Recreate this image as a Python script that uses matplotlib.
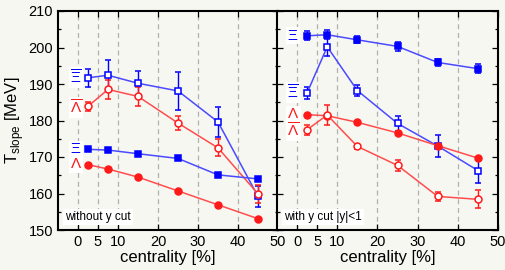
import matplotlib
matplotlib.use("Agg")
import matplotlib.pyplot as plt
import numpy as np

plt.rcParams['font.family'] = ['Liberation Sans', 'DejaVu Sans']
plt.rcParams['mathtext.fontset'] = 'custom'
plt.rcParams['mathtext.rm'] = 'Liberation Sans'

centrality = [2.5, 7.5, 15, 25, 35, 45]

# left panel: without y cut
L_xibar = [191.7, 192.4, 190.2, 188.1, 179.6, 159.2]
L_xibar_err = [2.4, 4.2, 3.4, 5.3, 4.0, 2.8]
L_lambar = [183.9, 188.5, 186.6, 179.3, 172.5, 159.9]
L_lambar_err = [1.2, 2.7, 2.5, 1.8, 2.3, 2.5]
L_xi = [172.1, 171.9, 170.9, 169.6, 165.1, 164.0]
L_xi_err = [0.3, 0.3, 0.3, 0.3, 0.3, 0.3]
L_lam = [167.9, 166.7, 164.5, 160.7, 156.9, 153.1]
L_lam_err = [0.2, 0.2, 0.2, 0.2, 0.2, 0.2]

# right panel: with y cut |y|<1
R_xi = [203.2, 203.5, 202.1, 200.3, 195.9, 194.2]
R_xi_err = [1.2, 1.3, 1.0, 1.3, 1.0, 1.2]
R_xibar = [187.6, 200.2, 188.2, 179.2, 173.0, 166.3]
R_xibar_err = [1.6, 2.6, 1.4, 2.0, 3.0, 3.5]
R_lam = [181.6, 181.3, 179.5, 176.6, 173.1, 169.7]
R_lam_err = [0.3, 0.3, 0.3, 0.3, 0.3, 0.3]
R_lambar = [177.5, 181.5, 172.9, 167.7, 159.2, 158.4]
R_lambar_err = [1.4, 2.7, 0.7, 1.5, 1.2, 2.5]

xticks = [0, 5, 10, 20, 30, 40, 50]
grid_x = [0, 5, 10, 20, 30, 40]

BG = '#f7f7f2'
BLUE = '#0000ff'
BLUE_L = '#4a4aff'
RED = '#ff1a1a'
RED_L = '#ff4d4d'

fig = plt.figure(figsize=(5.05, 2.70), dpi=100, facecolor=BG)
axL = fig.add_axes([58/505, 40/270, 220/505, 219/270], facecolor=BG)
axR = fig.add_axes([277/505, 40/270, 221/505, 219/270], facecolor=BG)


def series(ax, y, err, color, lcolor, marker, filled, lw=1.1):
    ax.errorbar(centrality, y, yerr=err, color=lcolor, lw=lw, ecolor=color,
                elinewidth=1.0, capsize=2.2, capthick=1.0,
                marker=marker, ms=4.6 if marker == 's' else 5.0,
                mfc=color if filled else 'white', mec=color, mew=1.1, zorder=3)


for ax in (axL, axR):
    ax.set_xlim(-5, 50)
    ax.set_ylim(150, 210)
    for g in grid_x:
        ax.axvline(g, color='#b0b0b0', lw=0.9, ls=(0, (4, 3)), zorder=0)
    ax.set_xticks(xticks)
    ax.set_yticks(np.arange(150, 211, 10))
    ax.set_yticks(np.arange(155, 210, 10), minor=True)
    ax.tick_params(axis='both', which='both', direction='in', top=True, right=True,
                   labelsize=10.5, width=0.9)
    ax.tick_params(axis='both', which='major', length=4)
    ax.tick_params(axis='both', which='minor', length=2.5)
    for s in ax.spines.values():
        s.set_linewidth(1.5)
    ax.set_xlabel('centrality [%]', fontsize=12, labelpad=1)

axR.tick_params(axis='y', labelleft=False)
axL.set_ylabel(r'T$_{\mathrm{slope}}$ [MeV]', fontsize=12, labelpad=2)

# left panel
series(axL, L_xibar, L_xibar_err, BLUE, BLUE_L, 's', False)
series(axL, L_lambar, L_lambar_err, RED, RED_L, 'o', False)
series(axL, L_xi, L_xi_err, BLUE, BLUE_L, 's', True)
series(axL, L_lam, L_lam_err, RED, RED_L, 'o', True)

# right panel
series(axR, R_xi, R_xi_err, BLUE, BLUE_L, 's', True)
series(axR, R_xibar, R_xibar_err, BLUE, BLUE_L, 's', False)
series(axR, R_lam, R_lam_err, RED, RED_L, 'o', True)
series(axR, R_lambar, R_lambar_err, RED, RED_L, 'o', False)

box = dict(facecolor='white', edgecolor='none', pad=1.0)
lab_kw = dict(ha='center', va='center', fontsize=11, bbox=box, zorder=4)
axL.text(-0.5, 191.7, r'$\overline{\Xi}$', color=BLUE, **lab_kw)
axL.text(-0.5, 183.6, r'$\overline{\Lambda}$', color=RED, **lab_kw)
axL.text(-0.5, 172.2, r'$\Xi$', color=BLUE, **lab_kw)
axL.text(-0.5, 168.0, r'$\Lambda$', color=RED, **lab_kw)

axR.text(-1.0, 203.2, r'$\Xi$', color=BLUE, **lab_kw)
axR.text(-1.0, 187.6, r'$\overline{\Xi}$', color=BLUE, **lab_kw)
axR.text(-1.0, 181.8, r'$\Lambda$', color=RED, **lab_kw)
axR.text(-1.0, 177.3, r'$\overline{\Lambda}$', color=RED, **lab_kw)

axL.text(-3.3, 153.6, 'without y cut', fontsize=8.5, ha='left', va='center',
         bbox=dict(facecolor='white', edgecolor='none', pad=1.5), zorder=4)
axR.text(-3.3, 153.6, 'with y cut |y|<1', fontsize=8.5, ha='left', va='center',
         bbox=dict(facecolor='white', edgecolor='none', pad=1.5), zorder=4)

fig.savefig('out.png', dpi=100, facecolor=BG)
